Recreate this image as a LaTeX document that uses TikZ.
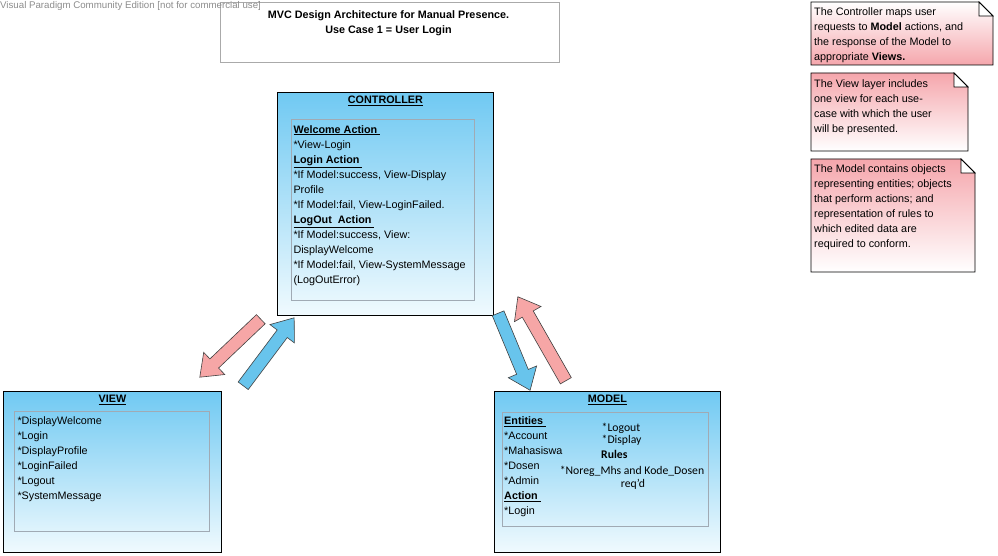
\documentclass[tikz,border=0pt]{standalone}
\usepackage{fontspec}
\setmainfont{Liberation Sans}
\newfontfamily\calibrifont{Carlito}
\usepackage{tikz}
\usetikzlibrary{shapes.arrows, calc, positioning}

\definecolor{boxblue}{RGB}{112,201,242}
\definecolor{boxpale}{RGB}{240,250,254}
\definecolor{notepink}{RGB}{245,166,172}
\definecolor{arrowblue}{RGB}{104,196,236}
\definecolor{arrowpink}{RGB}{246,166,166}
\definecolor{framegray}{RGB}{170,170,170}
\definecolor{innergray}{RGB}{160,170,180}
\definecolor{wmgray}{RGB}{140,140,140}

\newcommand\ulhead[1]{\textbf{\underline{#1}}}

% block arrow between two named points: name, tail, tip, colour
\newcommand\blockarrow[4]{%
  \path let \p1=($(#3)-(#2)$), \n1={atan2(\y1,\x1)}, \n2={veclen(\x1,\y1)} in
    node[flowarrow, fill=#4, rotate=\n1, minimum height=\n2] (#1) at (#2) {};%
}

% note with folded corner: name, x1, y1, x2, y2, shading
\newcommand\foldnote[6]{%
  \shade[#6, draw=black, line width=0.8pt] (#2,#3) -- (#4-14,#3) -- (#4,#3+14) -- (#4,#5) -- (#2,#5) -- cycle;
  \draw[fill=white, line width=0.8pt] (#4-14,#3) -- (#4-14,#3+14) -- (#4,#3+14) -- cycle;
  \coordinate (#1) at (#2,#3);%
}

\begin{document}
\begin{tikzpicture}[x=1pt, y=-1pt, font=\fontsize{10.8}{15}\selectfont,
    classbox/.style={draw=black, line width=0.8pt, top color=boxblue, bottom color=boxpale,
                     anchor=north west, inner sep=0pt},
    innerbox/.style={draw=innergray, line width=0.8pt, anchor=north west, inner sep=0pt},
    heading/.style={font=\bfseries\fontsize{10.8}{15}\selectfont, inner sep=0pt},
    items/.style={align=left, anchor=north west, inner sep=0pt},
    rules/.style={font=\calibrifont\fontsize{11.7}{14}\selectfont, inner sep=0pt},
    flowarrow/.style={single arrow, draw=black!75, line width=0.6pt, anchor=tail, inner sep=6pt,
                      single arrow head extend=9pt, single arrow tip angle=75}
  ]
  \useasboundingbox (0,0) rectangle (998,556);

  % title
  \node[draw=framegray, line width=0.8pt, anchor=north west, minimum width=339pt, minimum height=60pt, inner sep=0pt]
    (titlebox) at (220,2) {};
  \node[heading, align=center, anchor=north] (titletext) at (388.5,10.1)
    {MVC Design Architecture for Manual Presence.\\Use Case 1 = User Login};

  % controller
  \node[classbox, minimum width=216pt, minimum height=223pt] (controller) at (277,92) {};
  \node[heading, below=3.7pt of controller.north] (controllertitle) {\underline{CONTROLLER}};
  \node[innerbox, minimum width=183pt, minimum height=181pt] (controllerin) at (291,119) {};
  \node[items] (controlleritems) at (293.3,125.1) {%
    \ulhead{Welcome Action\ }\\
    *View-Login\\
    \ulhead{Login Action\ }\\
    *If Model:success, View-Display\\
    Profile\\
    *If Model:fail, View-LoginFailed.\\
    \ulhead{LogOut\ \ Action\ }\\
    *If Model:success, View:\\
    DisplayWelcome\\
    *If Model:fail, View-SystemMessage\\
    (LogOutError)};

  % view
  \node[classbox, minimum width=218pt, minimum height=161pt] (view) at (3,391) {};
  \node[heading, below=4pt of view.north] (viewtitle) {\underline{VIEW}};
  \node[innerbox, minimum width=195pt, minimum height=120pt] (viewin) at (14.3,411) {};
  \node[items] (viewitems) at (17.3,416.1) {%
    *DisplayWelcome\\ *Login\\ *DisplayProfile\\ *LoginFailed\\ *Logout\\ *SystemMessage};

  % model
  \node[classbox, minimum width=226pt, minimum height=161pt] (model) at (494,391) {};
  \node[heading, below=4pt of model.north] (modeltitle) {\underline{MODEL}};
  \node[innerbox, minimum width=206pt, minimum height=114pt] (modelin) at (501.5,411.5) {};
  \node[items] (modelitems) at (504,416.4) {%
    \ulhead{Entities\ }\\ *Account\\ *Mahasiswa\\ *Dosen\\ *Admin\\ \ulhead{Action\ }\\ *Login};
  \node[rules, anchor=base west] (modellogout) at (601.5,431.7) {*Logout};
  \node[rules, anchor=base west] (modeldisplay) at (601.5,443.3) {*Display};
  \node[rules, anchor=base west] (modelrules) at (601,458.3) {\textbf{Rules}};
  \node[rules, anchor=base] (modelnoreg) at (632,474.3) {*Noreg\_Mhs and Kode\_Dosen};
  \node[rules, anchor=base] (modelreqd) at (633,487.7) {req’d};

  % arrows between the layers
  \coordinate (c2vtail) at (261,319);  \coordinate (c2vtip) at (200,377);
  \coordinate (v2ctail) at (243,386);  \coordinate (v2ctip) at (294,318);
  \coordinate (c2mtail) at (498,313);  \coordinate (c2mtip) at (530,390);
  \coordinate (m2ctail) at (566,381);  \coordinate (m2ctip) at (518,297);
  \blockarrow{ctov}{c2vtail}{c2vtip}{arrowpink}
  \blockarrow{vtoc}{v2ctail}{v2ctip}{arrowblue}
  \blockarrow{ctom}{c2mtail}{c2mtip}{arrowblue}
  \blockarrow{mtoc}{m2ctail}{m2ctip}{arrowpink}

  % notes
  \foldnote{controllernote}{811}{2}{993}{65}{top color=white, bottom color=notepink}
  \node[items] (controllernotetext) at (814,7.1) {%
    The Controller maps user\\
    requests to \textbf{Model} actions, and\\
    the response of the Model to\\
    appropriate \textbf{Views.}};
  \foldnote{viewnote}{811}{73}{968}{151}{top color=notepink, bottom color=white}
  \node[items] (viewnotetext) at (814,79.4) {%
    The View layer includes\\
    one view for each use-\\
    case with which the user\\
    will be presented.};
  \foldnote{modelnote}{811}{159}{975}{272}{top color=notepink, bottom color=white}
  \node[items] (modelnotetext) at (814,164.8) {%
    The Model contains objects\\
    representing entities; objects\\
    that perform actions; and\\
    representation of rules to\\
    which edited data are\\
    required to conform.};

  \node[anchor=base west, inner sep=0pt, text=wmgray, font=\fontsize{9.7}{12}\selectfont] (watermark) at (0,9)
    {Visual Paradigm Community Edition [not for commercial use]};
\end{tikzpicture}
\end{document}
